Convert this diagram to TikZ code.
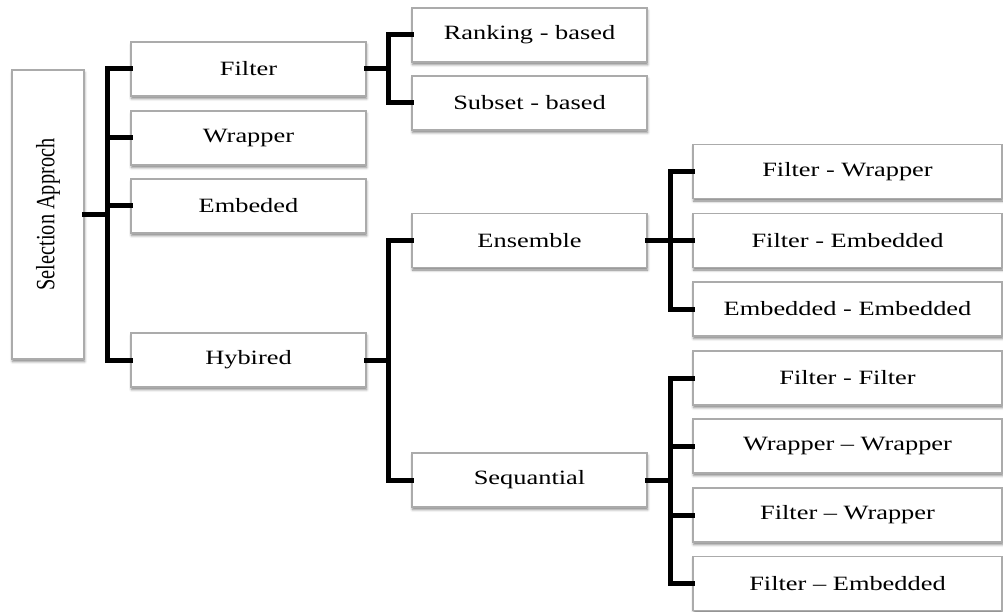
\documentclass[tikz,border=0pt]{standalone}
\usepackage{fontspec}
\setmainfont{Liberation Serif}
\usetikzlibrary{shadows.blur}
\begin{document}
\begin{tikzpicture}[x=1pt,y=-1pt,
  box/.style={draw=black!33, line width=1.6pt, fill=white, inner sep=0pt,
    blur shadow={shadow xshift=0.6pt, shadow yshift=-2.6pt,
      shadow blur radius=2.6pt, shadow opacity=50},
    font=\fontsize{20.3}{24}\selectfont},
  lone/.style={box, minimum width=235pt, minimum height=54pt},
  ltwo/.style={box, minimum width=235pt, minimum height=54pt},
  lthree/.style={box, minimum width=309pt, minimum height=54pt},
  conn/.style={draw=black, line width=5pt, line join=miter, line cap=rect}]
\useasboundingbox (0,0) rectangle (1003,612);
\newcommand{\wide}[1]{\scalebox{1.3}[1]{#1}}

% root
\node[box, minimum width=72pt, minimum height=289pt] (root) at (48,214.5)
  {\scalebox{1.3}[1]{\rotatebox{90}{Selection Approch}}};

% first level
\node[lone] (filter)  at (248.5,69)  {\wide{Filter}};
\node[lone] (wrapper) at (248.5,138) {\wide{Wrapper}};
\node[lone] (embeded) at (248.5,206) {\wide{Embeded}};
\node[lone] (hybired) at (248.5,360) {\wide{Hybired}};

% second level
\node[ltwo] (ranking)  at (529.5,35)    {\wide{Ranking - based}};
\node[ltwo] (subset)   at (529.5,103)   {\wide{Subset - based}};
\node[ltwo] (ensemble) at (529.5,240.5) {\wide{Ensemble}};
\node[ltwo] (sequ)     at (529.5,480)   {\wide{Sequantial}};

% third level
\node[lthree] (fw)  at (847.5,171.5) {\wide{Filter - Wrapper}};
\node[lthree] (fe)  at (847.5,240.5) {\wide{Filter - Embedded}};
\node[lthree] (ee)  at (847.5,309)   {\wide{Embedded - Embedded}};
\node[lthree] (ff)  at (847.5,378)   {\wide{Filter - Filter}};
\node[lthree] (ww)  at (847.5,446)   {\wide{Wrapper -- Wrapper}};
\node[lthree] (fwr) at (847.5,515)   {\wide{Filter -- Wrapper}};
\node[lthree] (fem) at (847.5,583.5) {\wide{Filter -- Embedded}};

% trunk positions
\coordinate (t1) at (107,0);
\coordinate (t2) at (388,0);
\coordinate (t3) at (670,0);

% elbow connectors
\foreach \c in {filter,wrapper,embeded,hybired}
  \draw[conn] (root.east) -- (t1 |- root.east) |- (\c.west);
\foreach \c in {ranking,subset}
  \draw[conn] (filter.east) -- (t2 |- filter.east) |- (\c.west);
\foreach \c in {ensemble,sequ}
  \draw[conn] (hybired.east) -- (t2 |- hybired.east) |- (\c.west);
\foreach \c in {fw,fe,ee}
  \draw[conn] (ensemble.east) -- (t3 |- ensemble.east) |- (\c.west);
\foreach \c in {ff,ww,fwr,fem}
  \draw[conn] (sequ.east) -- (t3 |- sequ.east) |- (\c.west);
\end{tikzpicture}
\end{document}
